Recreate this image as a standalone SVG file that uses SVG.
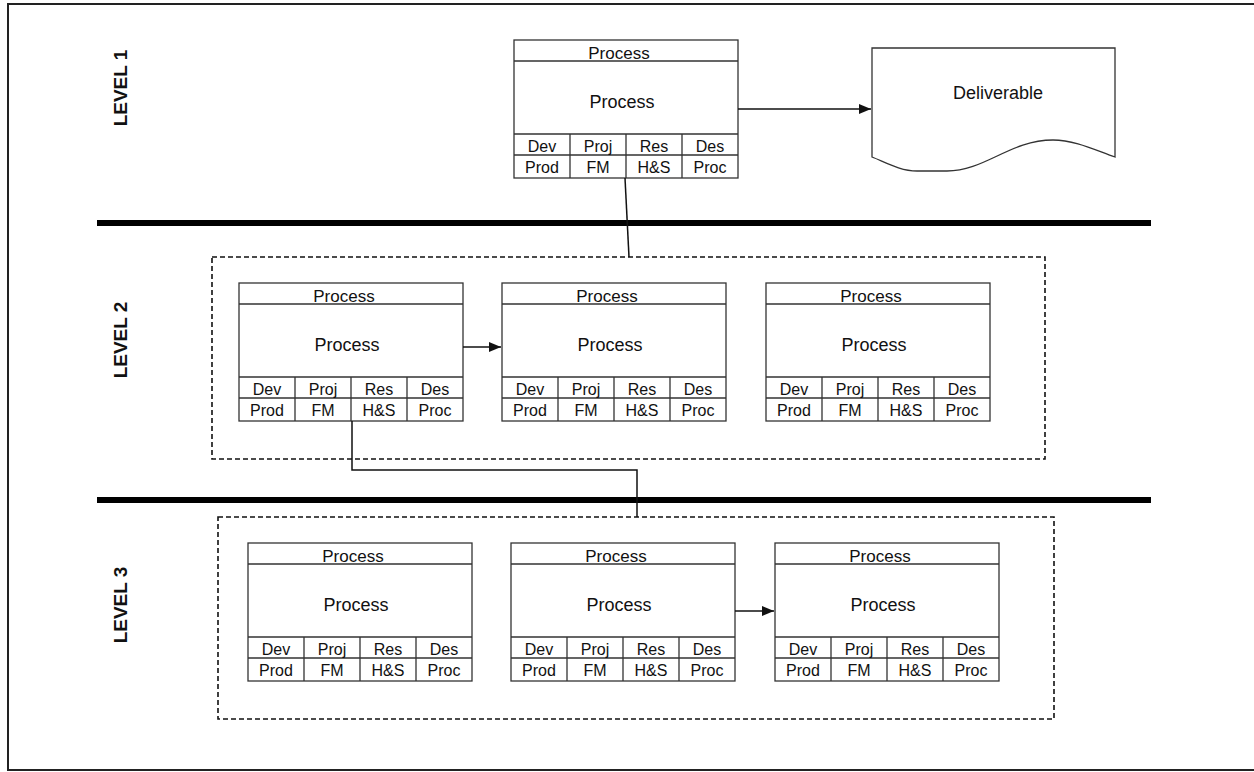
<svg xmlns="http://www.w3.org/2000/svg" xmlns:xlink="http://www.w3.org/1999/xlink" width="1254" height="772" viewBox="0 0 1254 772">
  <style>
    text { font-family: "Liberation Sans", Arial, sans-serif; fill: #111; }
    .lvl { font-size: 19px; font-weight: bold; text-anchor: middle; }
    .ttl { font-size: 17px; text-anchor: middle; }
    .mid { font-size: 18px; text-anchor: middle; }
    .cell { font-size: 16px; text-anchor: middle; }
    .deliv { font-size: 18px; text-anchor: middle; }
    .frame { fill: none; stroke: #222; stroke-width: 2; }
    .box { fill: #fff; stroke: #333; stroke-width: 1.3; }
    .grid { fill: none; stroke: #333; stroke-width: 1.3; }
    .group { fill: none; stroke: #111; stroke-width: 1.6; stroke-dasharray: 5 3; }
    .divider { stroke: #000; stroke-width: 6; }
    .conn { fill: none; stroke: #111; stroke-width: 1.5; }
  </style>
  <defs>
    <marker id="arrow" viewBox="0 0 12 10" refX="12" refY="5" markerWidth="12" markerHeight="10" markerUnits="userSpaceOnUse" orient="auto">
      <path d="M0,0 L12,5 L0,10 Z" fill="#111"/>
    </marker>
    <!-- process card outline: title row, body, two rows of four cells -->
    <g id="card">
      <rect class="box" x="0" y="0" width="224" height="138"/>
      <path class="grid" d="M0,21 H224 M0,94 H224 M0,115 H224 M56,94 V138 M112,94 V138 M168,94 V138"/>
    </g>
    <g id="labels">
      <text class="ttl" x="105" y="19">Process</text>
      <text class="mid" x="108" y="68">Process</text>
      <text class="cell" x="28" y="112">Dev</text>
      <text class="cell" x="84" y="112">Proj</text>
      <text class="cell" x="140" y="112">Res</text>
      <text class="cell" x="196" y="112">Des</text>
      <text class="cell" x="28" y="133">Prod</text>
      <text class="cell" x="84" y="133">FM</text>
      <text class="cell" x="140" y="133">H&amp;S</text>
      <text class="cell" x="196" y="133">Proc</text>
    </g>
  </defs>

  <rect width="1254" height="772" fill="#fff"/>

  <!-- outer frame (open on the right) -->
  <path class="frame" d="M1254,4 H8 V770 H1254"/>

  <!-- level separators -->
  <line class="divider" x1="97" y1="223" x2="1151" y2="223"/>
  <line class="divider" x1="97" y1="500" x2="1151" y2="500"/>

  <!-- level labels -->
  <text class="lvl" transform="translate(127,88) rotate(-90)">LEVEL 1</text>
  <text class="lvl" transform="translate(127,340) rotate(-90)">LEVEL 2</text>
  <text class="lvl" transform="translate(127,605) rotate(-90)">LEVEL 3</text>

  <!-- level groupings -->
  <rect id="group-level2" class="group" x="212" y="257" width="833" height="202"/>
  <rect id="group-level3" class="group" x="218" y="517" width="836" height="202"/>

  <!-- level 1 -->
  <g id="l1-process" transform="translate(514,40)">
    <use xlink:href="#card"/>
    <use xlink:href="#labels"/>
  </g>

  <g id="deliverable">
    <path class="box" d="M872,48 H1115 V157 C1095,150 1075,140 1053,140 C1010,140 985,171 947,171 H917 C900,171 885,162 872,157 Z"/>
    <text class="deliv" x="998" y="99">Deliverable</text>
  </g>

  <!-- level 2 -->
  <g id="l2-process-1" transform="translate(239,283)">
    <use xlink:href="#card"/>
    <use xlink:href="#labels"/>
  </g>
  <g id="l2-process-2" transform="translate(502,283)">
    <use xlink:href="#card"/>
    <use xlink:href="#labels"/>
  </g>
  <g id="l2-process-3" transform="translate(766,283)">
    <use xlink:href="#card"/>
    <use xlink:href="#labels"/>
  </g>

  <!-- level 3 -->
  <g id="l3-process-1" transform="translate(248,543)">
    <use xlink:href="#card"/>
    <use xlink:href="#labels"/>
  </g>
  <g id="l3-process-2" transform="translate(511,543)">
    <use xlink:href="#card"/>
    <use xlink:href="#labels"/>
  </g>
  <g id="l3-process-3" transform="translate(775,543)">
    <use xlink:href="#card"/>
    <use xlink:href="#labels"/>
  </g>

  <!-- connectors -->
  <g id="connectors">
    <line class="conn" x1="738" y1="109" x2="871" y2="109" marker-end="url(#arrow)"/>
    <line class="conn" x1="625" y1="178" x2="629" y2="257"/>
    <line class="conn" x1="463" y1="347" x2="501" y2="347" marker-end="url(#arrow)"/>
    <path class="conn" d="M352,421 V470 H637 V517"/>
    <line class="conn" x1="735" y1="611" x2="774" y2="611" marker-end="url(#arrow)"/>
  </g>
</svg>
